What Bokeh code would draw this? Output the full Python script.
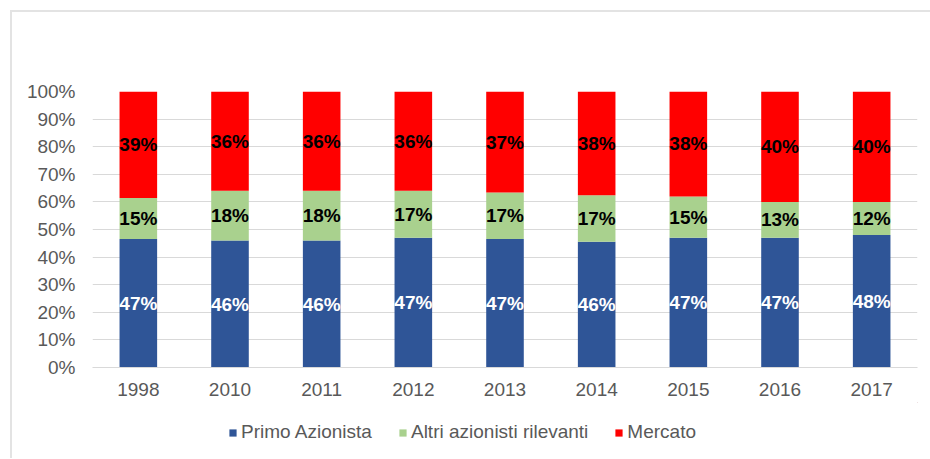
from bokeh.plotting import figure
from bokeh.layouts import column
from bokeh.models import ColumnDataSource, NumeralTickFormatter, FixedTicker, Legend, LegendItem, Range1d
from bokeh.core.properties import value
from bokeh.embed import file_html
from bokeh.resources import INLINE

years = ["1998", "2010", "2011", "2012", "2013", "2014", "2015", "2016", "2017"]
primo = [47, 46, 46, 47, 47, 46, 47, 47, 48]
altri = [15, 18, 18, 17, 17, 17, 15, 13, 12]
mercato = [39, 36, 36, 36, 37, 38, 38, 40, 40]
series_names = ["Primo Azionista", "Altri azionisti rilevanti", "Mercato"]
colors = ["#2F5597", "#A9D18E", "#FF0000"]
label_colors = ["white", "black", "black"]
yticks = [0, 0.1, 0.2, 0.3, 0.4, 0.5, 0.6, 0.7, 0.8, 0.9, 1.0]

tot = [a + b + c for a, b, c in zip(primo, altri, mercato)]
p_s = [a / t for a, t in zip(primo, tot)]
a_s = [b / t for b, t in zip(altri, tot)]
m_s = [c / t for c, t in zip(mercato, tot)]

src = ColumnDataSource(dict(x=years, primo=p_s, altri=a_s, mercato=m_s))

FONT = "Liberation Sans"
GRAY = "#595959"
FS = "19px"

p = figure(x_range=years, y_range=Range1d(0, 1), width=918, height=390,
           output_backend="svg", toolbar_location=None,
           min_border_left=80, min_border_top=79, min_border_right=13, min_border_bottom=35)
p.outline_line_color = None

r = p.vbar_stack(["primo", "altri", "mercato"], x="x", width=0.41, source=src,
                 color=colors, line_color=None)

shares = [p_s, a_s, m_s]
for i, (vals, lc) in enumerate(zip([primo, altri, mercato], label_colors)):
    mids = []
    for j in range(len(years)):
        b = sum(shares[k][j] for k in range(i))
        mids.append(b + shares[i][j] / 2)
    lsrc = ColumnDataSource(dict(x=years, y=mids, t=[f"{v}%" for v in vals]))
    p.text(x="x", y="y", text="t", source=lsrc, text_align="center", text_baseline="middle",
           text_font=value(FONT), text_font_size=FS, text_font_style="bold",
           text_color=lc)

p.xgrid.grid_line_color = None
p.ygrid.grid_line_color = "#d9d9d9"
p.ygrid.grid_line_width = 1
p.yaxis.ticker = FixedTicker(ticks=yticks)
p.yaxis.formatter = NumeralTickFormatter(format="0%")
for ax in [p.xaxis[0], p.yaxis[0]]:
    ax.major_tick_line_color = None
    ax.minor_tick_line_color = None
    ax.major_label_text_font = FONT
    ax.major_label_text_font_size = FS
    ax.major_label_text_color = GRAY
p.yaxis.axis_line_color = None
p.xaxis.axis_line_color = "#d9d9d9"
p.yaxis.major_label_standoff = 11
p.xaxis.major_label_standoff = 9

# legend figure (renderers hold a point outside the visible range, only for the legend swatches)
lf = figure(width=918, height=56, x_range=Range1d(0, 1), y_range=Range1d(0, 1),
            output_backend="svg", toolbar_location=None,
            min_border=0, min_border_left=0, min_border_right=0, min_border_top=0, min_border_bottom=0)
lf.axis.visible = False
lf.grid.visible = False
lf.outline_line_color = None
lrs = []
for c in colors:
    s = ColumnDataSource(dict(x=[10], top=[10]))
    lrs.append(lf.vbar(x="x", top="top", bottom=9, width=0.1, source=s,
                       fill_color=c, line_color=None))
legend = Legend(items=[LegendItem(label=n, renderers=[rr]) for n, rr in zip(series_names, lrs)],
                orientation="horizontal", location=(136, 15),
                glyph_width=9, glyph_height=9, label_standoff=4, spacing=26,
                padding=0, margin=0, border_line_color=None, background_fill_alpha=0,
                label_text_font=FONT, label_text_font_size=FS, label_text_color=GRAY)
lf.add_layout(legend, "center")

layout = column(p, lf, spacing=0,
                styles={"margin-left": "10px", "margin-top": "10px",
                        "border-left": "2px solid #e3e3e3", "border-top": "2px solid #e3e3e3"})

open("out.html", "w").write(file_html(layout, INLINE))
